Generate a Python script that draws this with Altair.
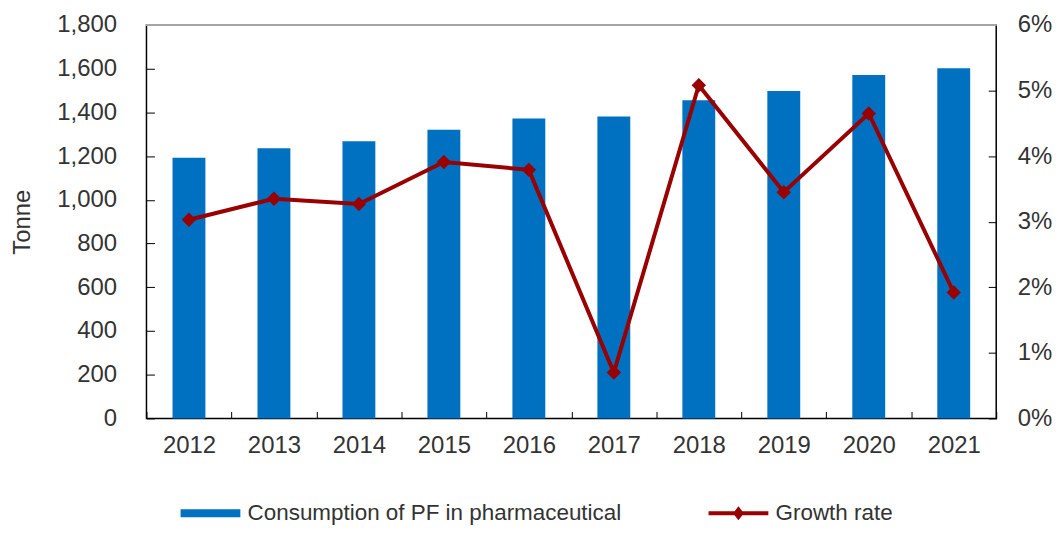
import altair as alt
import pandas as pd

years = ["2012", "2013", "2014", "2015", "2016", "2017", "2018", "2019", "2020", "2021"]
tonnes = [1192, 1236, 1268, 1320, 1372, 1381, 1456, 1498, 1571, 1602]
growth = [3.03, 3.35, 3.27, 3.91, 3.79, 0.70, 5.08, 3.45, 4.65, 1.92]
left_ticks = [0, 200, 400, 600, 800, 1000, 1200, 1400, 1600, 1800]
right_ticks = [0, 1, 2, 3, 4, 5, 6]
bar_name = "Consumption of PF in pharmaceutical"
line_name = "Growth rate"

BLUE = "#0070C0"
RED = "#990000"
TXT = "#333333"
FONT = "Liberation Sans"

df = pd.DataFrame({"year": years, "tonnes": tonnes, "growth": growth,
                   "s1": [bar_name] * len(years), "s2": [line_name] * len(years)})

W, H = 853, 395

x_enc = alt.X("year:O", title=None,
              scale=alt.Scale(paddingInner=0, paddingOuter=0),
              axis=alt.Axis(labelAngle=0, tickBand="extent", tickSize=7, offset=-7,
                            domain=False, labelPadding=15, labelFontSize=24,
                            labelColor=TXT, tickColor="#000000", labelFont=FONT))

bars = alt.Chart(df).mark_bar(size=33).encode(
    x=x_enc,
    y=alt.Y("tonnes:Q", title="Tonne",
            scale=alt.Scale(domain=[0, 1800], nice=False),
            axis=alt.Axis(orient="left", values=left_ticks, format=",.0f", tickSize=8,
                          offset=-8, domain=False, grid=False, labelPadding=30,
                          labelFontSize=24, labelColor=TXT, labelFont=FONT,
                          titleFontSize=24, titleFontWeight="normal", titleColor=TXT,
                          titleFont=FONT, titlePadding=22, tickColor="#000000")),
    color=alt.Color("s1:N", scale=alt.Scale(domain=[bar_name], range=[BLUE]),
                    legend=alt.Legend(title=None, orient="none", legendX=53, legendY=479,
                                      symbolType="M-3,-0.4H3V0.4H-3Z", symbolSize=400,
                                      symbolStrokeWidth=0, labelOffset=26,
                                      labelFontSize=22.5, labelColor=TXT, labelFont=FONT,
                                      labelLimit=0, padding=0)),
)

right_axis = alt.Axis(orient="right", values=right_ticks, labelExpr="datum.value + '%'",
                      tickSize=8, offset=-8, domain=False, grid=False, labelPadding=21,
                      labelFontSize=24, labelColor=TXT, labelFont=FONT, title=None,
                      tickColor="#000000")
y_right = alt.Y("growth:Q", scale=alt.Scale(domain=[0, 6], nice=False), axis=right_axis)

line = alt.Chart(df).mark_line(color=RED, strokeWidth=4).encode(x=x_enc, y=y_right)
pts = alt.Chart(df).mark_point(filled=True, shape="diamond", size=210, opacity=1).encode(
    x=x_enc, y=y_right,
    color=alt.Color("s2:N", scale=alt.Scale(domain=[line_name], range=[RED]),
                    legend=alt.Legend(title=None, orient="none", legendX=583, legendY=479,
                                      symbolType="M-3,-0.2H3V0.2H-3Z M0,-0.7L0.55,0L0,0.7L-0.55,0Z",
                                      symbolSize=400, symbolStrokeWidth=0, labelOffset=26,
                                      labelFontSize=22.5, labelColor=TXT, labelFont=FONT,
                                      labelLimit=0, padding=0)),
)

top_rule = alt.Chart(df).mark_rule(color="#a6a6a6", strokeWidth=1.5).encode(
    x=alt.value(0), x2=alt.value(W), y=alt.value(0))

right_side = alt.layer(line, pts)

chart = alt.layer(bars, right_side, top_rule).resolve_scale(
    y="independent", color="independent"
).properties(
    width=W, height=H,
    autosize=alt.AutoSizeParams(type="none"),
    padding={"left": 139, "top": 16, "right": 58, "bottom": 106},
).configure_view(
    stroke="#000000", strokeWidth=1.5
)

chart.save("out.html", embed_options={"renderer": "svg", "actions": False})
